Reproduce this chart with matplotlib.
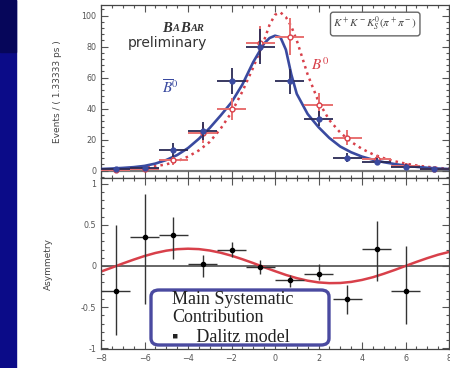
import numpy as np
import matplotlib; matplotlib.use("Agg")
import matplotlib.pyplot as plt
from matplotlib.patches import Rectangle, FancyBboxPatch
from matplotlib.ticker import MultipleLocator, FormatStrFormatter

plt.rcParams["mathtext.fontset"] = "stix"

# delta t bins (ps), width 1.333
t_bins = [-7.33, -6.0, -4.67, -3.33, -2.0, -0.67, 0.67, 2.0, 3.33, 4.67, 6.0, 7.33]
bbar_evt = [0.8, 1.5, 13.2, 25.5, 57.7, 80.0, 57.5, 33.5, 8.3, 5.8, 2.5, 0.8]
bbar_err = [1.0, 1.5, 4.5, 6.0, 8.5, 11.0, 8.0, 5.0, 3.0, 2.5, 1.5, 1.0]
b0_evt = [0.5, 1.2, 6.8, 24.0, 39.7, 82.0, 86.3, 42.3, 21.2, 7.2, 3.0, 0.8]
b0_err = [0.8, 1.2, 3.0, 6.0, 7.0, 11.0, 12.0, 7.5, 5.0, 3.0, 2.0, 1.0]

# fit curves
curve_t = [-8, -7.5, -7, -6.5, -6, -5.5, -5, -4.5, -4, -3.5, -3, -2.5, -2, -1.5, -1,
           -0.5, -0.25, 0, 0.25, 0.5, 0.75, 1, 1.5, 2, 2.5, 3, 3.5, 4, 4.5, 5, 5.5,
           6, 6.5, 7, 7.5, 8]
bbar_fit = [1.0, 1.3, 1.7, 2.2, 3.0, 4.5, 6.8, 10.0, 14.5, 20.5, 27.5, 35.5, 44.0, 55.5, 70.0,
            82.0, 85.5, 87.0, 86.0, 78.0, 62.0, 49.5, 36.5, 28.0, 21.0, 15.5, 11.8, 9.0, 7.0, 5.4, 4.2,
            3.2, 2.4, 1.8, 1.3, 1.0]
b0_fit = [0.5, 0.7, 1.0, 1.4, 2.0, 2.8, 4.0, 6.0, 9.0, 13.0, 18.5, 27.0, 37.5, 51.0, 66.5,
          84.0, 94.0, 100.5, 102.0, 99.0, 93.0, 84.0, 62.0, 44.5, 32.5, 24.5, 18.5, 14.0, 10.5, 8.0, 6.0,
          4.5, 3.3, 2.4, 1.7, 1.2]

# asymmetry
asym_t = [-7.33, -6.0, -4.67, -3.33, -2.0, -0.67, 0.67, 2.0, 3.33, 4.67, 6.0]
asym = [-0.30, 0.35, 0.38, 0.03, 0.20, -0.01, -0.17, -0.10, -0.40, 0.21, -0.30]
asym_up = [0.80, 0.52, 0.22, 0.10, 0.09, 0.08, 0.06, 0.13, 0.17, 0.34, 0.54]
asym_dn = [0.54, 0.81, 0.29, 0.16, 0.09, 0.09, 0.09, 0.07, 0.18, 0.39, 0.41]
asym_ct = [-8, -7.5, -7, -6.5, -6, -5.5, -5, -4.5, -4, -3.5, -3, -2.5, -2, -1.5, -1, -0.5,
           0, 0.5, 1, 1.5, 2, 2.5, 3, 3.5, 4, 4.5, 5, 5.5, 6, 6.5, 7, 7.5, 8]
asym_fit = [-0.068, -0.02, 0.03, 0.077, 0.121, 0.158, 0.186, 0.204, 0.21, 0.205, 0.188, 0.161,
            0.125, 0.082, 0.035, -0.015, -0.063, -0.109, -0.148, -0.179, -0.2, -0.209, -0.207,
            -0.194, -0.17, -0.137, -0.095, -0.049, 0.0, 0.049, 0.095, 0.137, 0.17]

BLUE = "#3a4aa0"; RED = "#d8404a"; GREY = "#555555"
xerr = 0.667

fig = plt.figure(figsize=(4.5, 3.68), dpi=100)
fig.patches.append(Rectangle((0, 0), 16/450, 1, transform=fig.transFigure, color="#0b0b88", zorder=0))
fig.patches.append(Rectangle((0, 1-52/368), 16/450, 52/368, transform=fig.transFigure, color="#06065a", zorder=0))

ax1 = fig.add_axes([101/450, 1-178/368, 348/450, 173/368])
ax2 = fig.add_axes([101/450, 1-349/368, 348/450, 171/368])

for ax in (ax1, ax2):
    ax.set_xlim(-8, 8)
    ax.xaxis.set_major_locator(MultipleLocator(2))
    ax.xaxis.set_minor_locator(MultipleLocator(0.5))
    ax.tick_params(which="both", direction="in", top=True, right=True, colors=GREY,
                   labelsize=5.8, width=0.8)
    ax.tick_params(which="major", length=5)
    ax.tick_params(which="minor", length=2.5)
    for s in ax.spines.values():
        s.set_color("#444444"); s.set_linewidth(0.9)

# top panel
ax1.set_ylim(-4.8, 106.8)
ax1.yaxis.set_major_locator(MultipleLocator(20))
ax1.yaxis.set_minor_locator(MultipleLocator(4))
ax1.tick_params(labelbottom=False)
ax1.axhline(0, color="#777777", lw=1.6, zorder=1)
ax1.plot(curve_t, b0_fit, ":", color=RED, lw=1.8, zorder=2)
ax1.plot(curve_t, bbar_fit, "-", color=BLUE, lw=1.9, zorder=3)
ax1.errorbar(t_bins, b0_evt, xerr=xerr, yerr=b0_err, fmt="o", ms=3.5, mfc="white", mec=RED,
             ecolor="#e87070", elinewidth=1.4, capsize=0, zorder=4)
ax1.errorbar(t_bins, bbar_evt, xerr=xerr, yerr=bbar_err, fmt="o", ms=3.5, color=BLUE,
             ecolor="#2a2a55", elinewidth=1.3, capsize=0, zorder=5)
ax1.set_ylabel("Events / ( 1.33333 ps )", fontsize=6.5, color="#444444", labelpad=14)

# BaBar logo-style text
for x, s, fs in [(0.175, "B", 10.5), (0.205, "A", 7.5), (0.228, "B", 10.5), (0.258, "AR", 7.5)]:
    ax1.text(x, 0.865, s, transform=ax1.transAxes, fontsize=fs, fontfamily="Liberation Serif",
             style="italic", fontweight="bold", color="#333333", ha="left", va="center")
ax1.text(0.078, 0.78, "preliminary", transform=ax1.transAxes, fontsize=10, color="#333333",
         ha="left", va="center")
ax1.text(0.198, 0.52, r"$\overline{B}^0$", transform=ax1.transAxes, fontsize=11, color=BLUE,
         ha="center", va="center")
ax1.text(0.63, 0.653, r"$B^0$", transform=ax1.transAxes, fontsize=11, color=RED,
         ha="center", va="center")
ax1.text(0.788, 0.89, r"$K^+K^-K^0_S(\pi^+\pi^-)$", transform=ax1.transAxes, fontsize=8,
         color="#444444", ha="center", va="center",
         bbox=dict(boxstyle="round,pad=0.25", fc="white", ec="#666666", lw=1.0))

# bottom panel
ax2.set_ylim(-1.01, 1.07)
ax2.yaxis.set_major_locator(MultipleLocator(0.5))
ax2.yaxis.set_minor_locator(MultipleLocator(0.1))
ax2.yaxis.set_major_formatter(FormatStrFormatter("%g"))
ax2.axhline(0, color="#666666", lw=1.4, zorder=1)
ax2.plot(asym_ct, asym_fit, "-", color=RED, lw=1.8, zorder=2)
ax2.errorbar(asym_t, asym, xerr=xerr, yerr=[asym_dn, asym_up], fmt="o", ms=3, color="black",
             ecolor="#333333", elinewidth=1.0, capsize=0, zorder=4)
ax2.set_ylabel("Asymmetry", fontsize=6.5, color="#444444", labelpad=20)

box = FancyBboxPatch((151/450, 1-345/368), 178/450, 55/368,
                     boxstyle="round,pad=0,rounding_size=0.018",
                     transform=fig.transFigure, fc="white", ec="#4a4aa0", lw=2.4, zorder=10)
fig.patches.append(box)
for y, s in [(300, "Main Systematic"), (318, "Contribution"), (337, "\u25aa    Dalitz model")]:
    fig.text(172/450, 1-y/368, s, fontsize=13, fontfamily="Liberation Serif",
             color="#222222", ha="left", va="center", zorder=11)

fig.savefig("out.png", dpi=100)
